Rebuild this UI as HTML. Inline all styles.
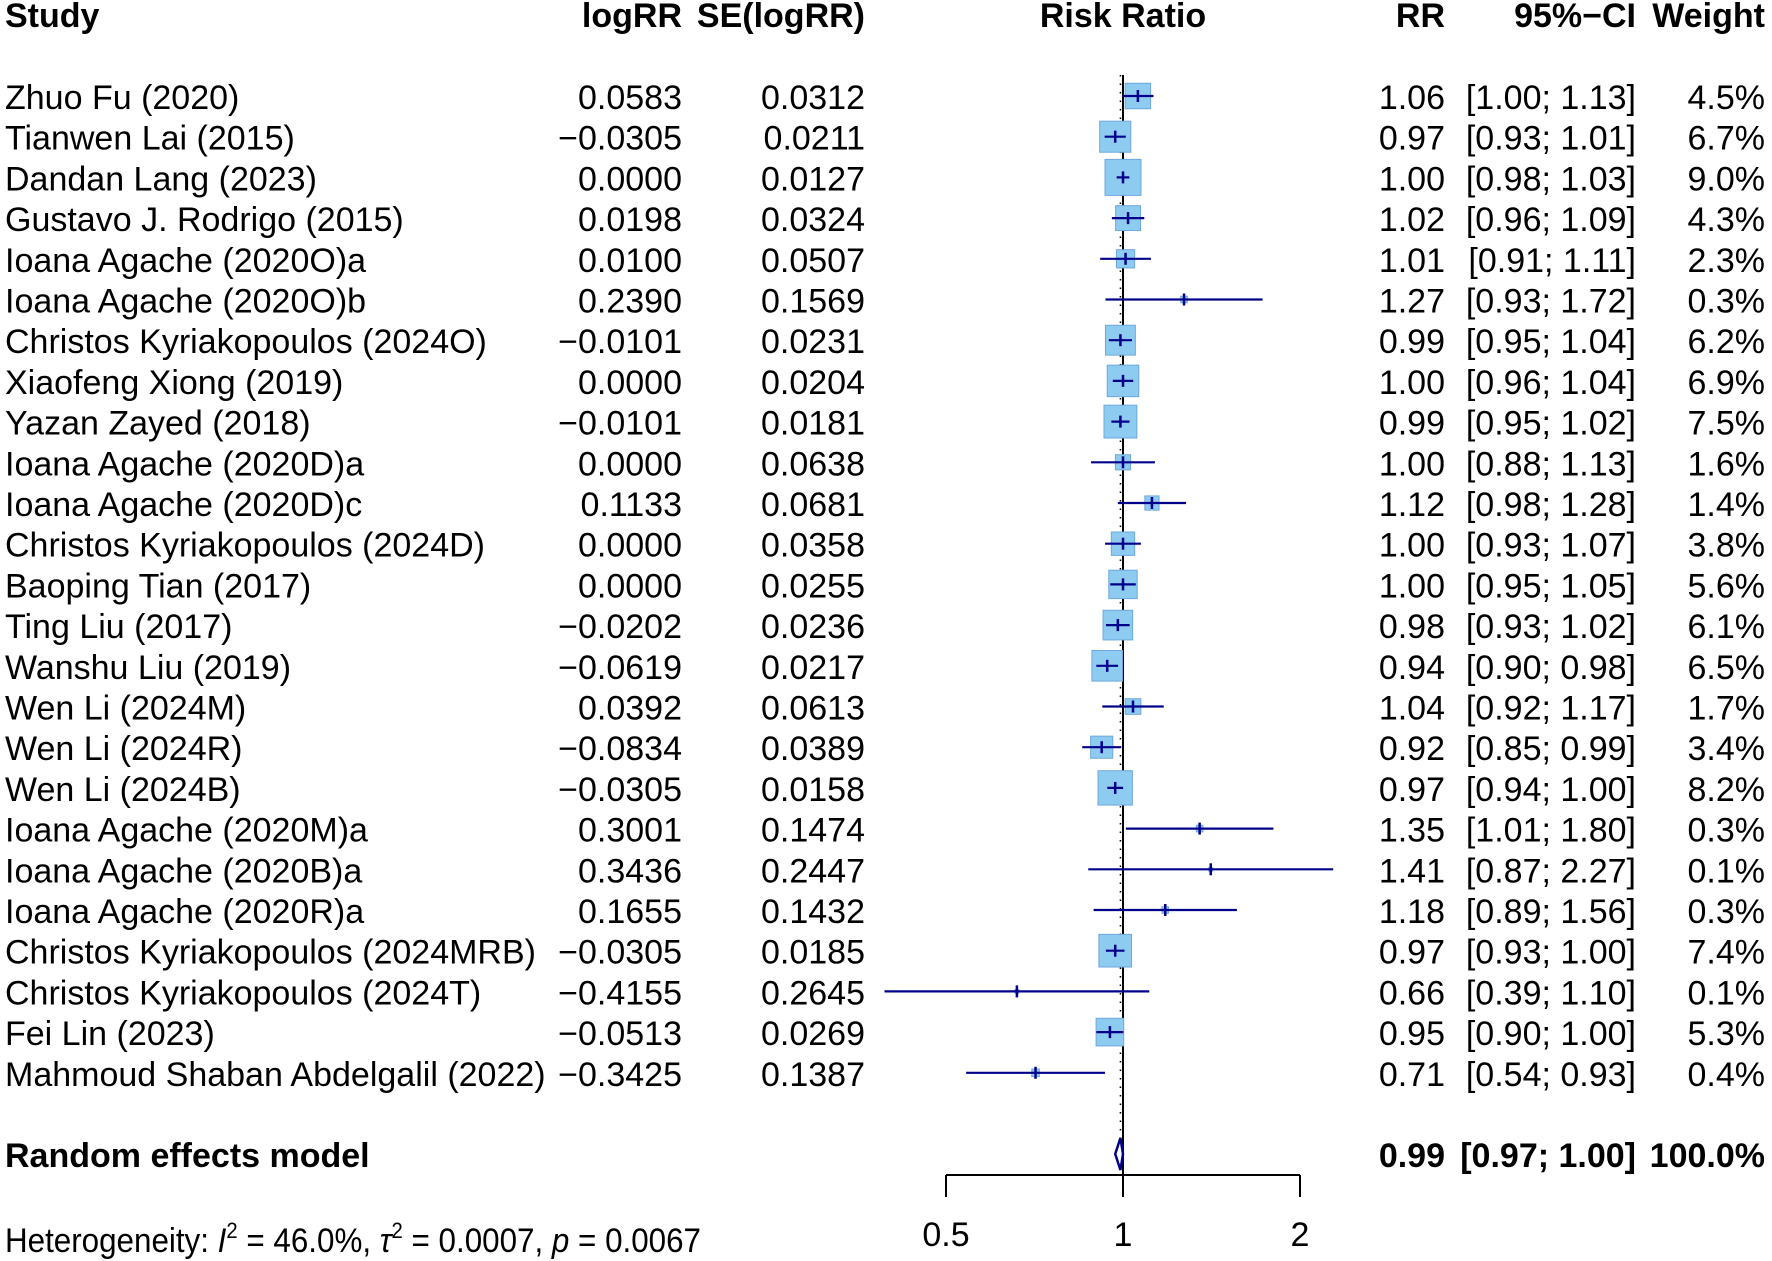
<!DOCTYPE html>
<html><head><meta charset="utf-8"><style>
html,body{margin:0;padding:0;background:#fff}
svg{display:block}
text{font-family:"Liberation Sans",Arial,sans-serif;font-size:34px;fill:#000}
.b{font-weight:bold}
</style></head><body>
<svg id="plot" width="1772" height="1261" viewBox="0 0 1772 1261" xmlns="http://www.w3.org/2000/svg"></svg>
<script>
const studies=["Zhuo Fu (2020)","Tianwen Lai (2015)","Dandan Lang (2023)","Gustavo J. Rodrigo (2015)","Ioana Agache (2020O)a","Ioana Agache (2020O)b","Christos Kyriakopoulos (2024O)","Xiaofeng Xiong (2019)","Yazan Zayed (2018)","Ioana Agache (2020D)a","Ioana Agache (2020D)c","Christos Kyriakopoulos (2024D)","Baoping Tian (2017)","Ting Liu (2017)","Wanshu Liu (2019)","Wen Li (2024M)","Wen Li (2024R)","Wen Li (2024B)","Ioana Agache (2020M)a","Ioana Agache (2020B)a","Ioana Agache (2020R)a","Christos Kyriakopoulos (2024MRB)","Christos Kyriakopoulos (2024T)","Fei Lin (2023)","Mahmoud Shaban Abdelgalil (2022)"];
const logRR=[0.0583,-0.0305,0.0000,0.0198,0.0100,0.2390,-0.0101,0.0000,-0.0101,0.0000,0.1133,0.0000,0.0000,-0.0202,-0.0619,0.0392,-0.0834,-0.0305,0.3001,0.3436,0.1655,-0.0305,-0.4155,-0.0513,-0.3425];
const seLogRR=[0.0312,0.0211,0.0127,0.0324,0.0507,0.1569,0.0231,0.0204,0.0181,0.0638,0.0681,0.0358,0.0255,0.0236,0.0217,0.0613,0.0389,0.0158,0.1474,0.2447,0.1432,0.0185,0.2645,0.0269,0.1387];
const weights=[4.5,6.7,9.0,4.3,2.3,0.3,6.2,6.9,7.5,1.6,1.4,3.8,5.6,6.1,6.5,1.7,3.4,8.2,0.3,0.1,0.3,7.4,0.1,5.3,0.4];
const rrText=["1.06","0.97","1.00","1.02","1.01","1.27","0.99","1.00","0.99","1.00","1.12","1.00","1.00","0.98","0.94","1.04","0.92","0.97","1.35","1.41","1.18","0.97","0.66","0.95","0.71"];
const ciText=["[1.00; 1.13]","[0.93; 1.01]","[0.98; 1.03]","[0.96; 1.09]","[0.91; 1.11]","[0.93; 1.72]","[0.95; 1.04]","[0.96; 1.04]","[0.95; 1.02]","[0.88; 1.13]","[0.98; 1.28]","[0.93; 1.07]","[0.95; 1.05]","[0.93; 1.02]","[0.90; 0.98]","[0.92; 1.17]","[0.85; 0.99]","[0.94; 1.00]","[1.01; 1.80]","[0.87; 2.27]","[0.89; 1.56]","[0.93; 1.00]","[0.39; 1.10]","[0.90; 1.00]","[0.54; 0.93]"];
const pooled=[0.99,0.97,1.00]; // RR, lower, upper
const xTicks=[0.5,1,2];

const svg=document.getElementById('plot');
const NS='http://www.w3.org/2000/svg';
const X1=1123, U=177;
const xs=v=>X1+U*Math.log2(v);
const rowY=i=>96+i*40.7;
function mk(tag,attrs,txt){const e=document.createElementNS(NS,tag);for(const k in attrs)e.setAttribute(k,attrs[k]);if(txt!==undefined)e.textContent=txt;svg.appendChild(e);return e;}
const f=(v,d)=>{const s=Math.abs(v).toFixed(d);return (v<0?'\u2212':'')+s;};

let h;
h=mk('text',{x:5,y:27,class:'b'},'Study');


h=mk('text',{x:682,y:27,class:'b','text-anchor':'end'},'logRR');


h=mk('text',{x:865,y:27,class:'b','text-anchor':'end'},'SE(logRR)');


h=mk('text',{x:X1,y:27,class:'b','text-anchor':'middle'},'Risk Ratio');


h=mk('text',{x:1445,y:27,class:'b','text-anchor':'end'},'RR');


h=mk('text',{x:1636,y:27,class:'b','text-anchor':'end'},'95%\u2212CI');


h=mk('text',{x:1765,y:27,class:'b','text-anchor':'end'},'Weight');



const yTop=75, yAxis=1175;
let l=mk('line',{x1:X1,y1:yTop,x2:X1,y2:yAxis,stroke:'#000','stroke-width':2});


l=mk('line',{x1:xs(pooled[0]),y1:yTop,x2:xs(pooled[0]),y2:1140,stroke:'#000','stroke-width':1.5,'stroke-dasharray':'1.5,7'});



studies.forEach((s,i)=>{
  const y=rowY(i), by=y+13;
  const rr=Math.exp(logRR[i]), lo=Math.exp(logRR[i]-1.96*seLogRR[i]), hi=Math.exp(logRR[i]+1.96*seLogRR[i]);
  let t=mk('text',{x:5,y:by},s);
  
  
  t=mk('text',{x:682,y:by,'text-anchor':'end'},f(logRR[i],4));
  
  
  t=mk('text',{x:865,y:by,'text-anchor':'end'},seLogRR[i].toFixed(4));
  
  
  t=mk('text',{x:1445,y:by,'text-anchor':'end'},rrText[i]);
  
  
  t=mk('text',{x:1636,y:by,'text-anchor':'end'},ciText[i]);
  
  
  t=mk('text',{x:1765,y:by,'text-anchor':'end'},weights[i].toFixed(1)+'%');
  
  
  const sz=12*Math.sqrt(weights[i]), cx=xs(rr);
  const b=mk('rect',{x:cx-sz/2,y:y-sz/2,width:sz,height:sz,fill:'#8ecbf0',stroke:'#6fa8dc','stroke-width':1});
  
  
  const c=mk('line',{x1:xs(lo),y1:y,x2:xs(hi),y2:y,stroke:'#00008b','stroke-width':2.2});
  
  
  const m=mk('line',{x1:cx,y1:y-6,x2:cx,y2:y+6,stroke:'#00008b','stroke-width':2.5});
  
  
});

const py=1154;
let t=mk('text',{x:5,y:py+13,class:'b'},'Random effects model');


t=mk('text',{x:1445,y:py+13,class:'b','text-anchor':'end'},pooled[0].toFixed(2));


t=mk('text',{x:1636,y:py+13,class:'b','text-anchor':'end'},'['+pooled[1].toFixed(2)+'; '+pooled[2].toFixed(2)+']');


t=mk('text',{x:1765,y:py+13,class:'b','text-anchor':'end'},'100.0%');


const d=mk('polygon',{points:`${xs(pooled[1])},${py} ${xs(pooled[0])},${py-16} ${xs(pooled[2])},${py} ${xs(pooled[0])},${py+16}`,fill:'#fff',stroke:'#00008b','stroke-width':2.5});



l=mk('line',{x1:xs(xTicks[0]),y1:yAxis,x2:xs(xTicks[xTicks.length-1]),y2:yAxis,stroke:'#000','stroke-width':2});


xTicks.forEach(v=>{
  const k=mk('line',{x1:xs(v),y1:yAxis,x2:xs(v),y2:1197,stroke:'#000','stroke-width':2});
  
  
  const tl=mk('text',{x:xs(v),y:1246,'text-anchor':'middle'},String(v));
  
  
});

const het=document.createElementNS(NS,'text');
het.setAttribute('x',5);het.setAttribute('y',1252);
het.setAttribute('textLength',696);
het.setAttribute('lengthAdjust','spacingAndGlyphs');


het.innerHTML='Heterogeneity: <tspan font-style="italic">I</tspan><tspan dy="-14" font-size="22">2</tspan><tspan dy="14"> = 46.0%,  </tspan><tspan font-style="italic">\u03c4</tspan><tspan dy="-14" font-size="22">2</tspan><tspan dy="14"> = 0.0007, </tspan><tspan font-style="italic">p</tspan> = 0.0067';
svg.appendChild(het);
</script>
</body></html>
